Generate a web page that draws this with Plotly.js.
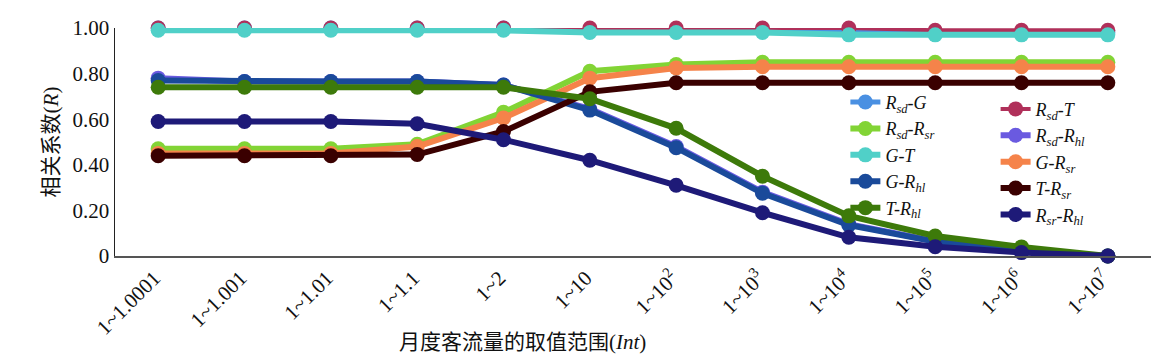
<!DOCTYPE html>
<html><head><meta charset="utf-8">
<script src="https://cdn.plot.ly/plotly-3.0.1.min.js"></script>
<style>html,body{margin:0;padding:0;background:#fff}#chart{width:1168px;height:364px}</style>
</head><body><div id="chart"></div>
<script>
const categories = ["1~1.0001","1~1.001","1~1.01","1~1.1","1~2","1~10","1~10<sup>2</sup>","1~10<sup>3</sup>","1~10<sup>4</sup>","1~10<sup>5</sup>","1~10<sup>6</sup>","1~10<sup>7</sup>"];
const yTickVals = [0,0.2,0.4,0.6,0.8,1.0];
const yTickText = ["0","0.20","0.40","0.60","0.80","1.00"];

const RsdG   = [1.00,1.00,1.00,1.00,1.00,0.99,0.99,0.99,0.98,0.98,0.98,0.98];
const RsdT   = [1.00,1.00,1.00,1.00,1.00,1.00,1.00,1.00,1.00,0.99,0.99,0.99];
const RsdRsr = [0.47,0.47,0.47,0.49,0.63,0.81,0.84,0.85,0.85,0.85,0.85,0.85];
const RsdRhl = [0.78,0.765,0.765,0.765,0.75,0.645,0.48,0.28,0.14,0.065,0.02,0];
const GT     = [0.99,0.99,0.99,0.99,0.99,0.98,0.98,0.98,0.97,0.97,0.97,0.97];
const GRsr   = [0.45,0.45,0.45,0.48,0.605,0.78,0.825,0.83,0.83,0.83,0.83,0.83];
const GRhl   = [0.77,0.765,0.765,0.765,0.75,0.64,0.475,0.275,0.136,0.063,0.02,0];
const TRsr   = [0.44,0.44,0.44,0.445,0.546,0.72,0.76,0.76,0.76,0.76,0.76,0.76];
const TRhl   = [0.74,0.74,0.74,0.74,0.74,0.69,0.56,0.35,0.176,0.088,0.04,0];
const RsrRhl = [0.59,0.59,0.59,0.58,0.51,0.42,0.31,0.19,0.082,0.041,0.015,0];

const names = {
  RsdG:"<i>R<sub>sd</sub>-G</i>", RsdT:"<i>R<sub>sd</sub>-T</i>", RsdRsr:"<i>R<sub>sd</sub>-R<sub>sr</sub></i>",
  RsdRhl:"<i>R<sub>sd</sub>-R<sub>hl</sub></i>", GT:"<i>G-T</i>", GRsr:"<i>G-R<sub>sr</sub></i>",
  GRhl:"<i>G-R<sub>hl</sub></i>", TRsr:"<i>T-R<sub>sr</sub></i>", TRhl:"<i>T-R<sub>hl</sub></i>", RsrRhl:"<i>R<sub>sr</sub>-R<sub>hl</sub></i>"
};

function tr(y, name, color, legend, rank, width){
  return {x: categories, y: y, name: name, type:'scatter', mode:'lines+markers',
    line:{color:color, width: width||6}, marker:{color:color, size:15},
    legend: legend, legendrank: rank, cliponaxis:false};
}
const data = [
  tr(RsdG, names.RsdG, '#4a90e2', 'legend', 1, 5),
  tr(RsdT, names.RsdT, '#b0305a', 'legend2', 1, 4),
  tr(RsdRsr, names.RsdRsr, '#82d435', 'legend', 2),
  tr(RsdRhl, names.RsdRhl, '#6a5ae0', 'legend2', 2),
  tr(GT, names.GT, '#50d0c8', 'legend', 3),
  tr(GRsr, names.GRsr, '#f5834a', 'legend2', 3),
  tr(GRhl, names.GRhl, '#1a4a9a', 'legend', 4),
  tr(TRsr, names.TRsr, '#3a0000', 'legend2', 4),
  tr(TRhl, names.TRhl, '#3d7a0a', 'legend', 5),
  tr(RsrRhl, names.RsrRhl, '#1e1a78', 'legend2', 5)
];
const serif = 'Liberation Serif, Times New Roman, Noto Sans CJK SC, serif';
const legFont = {family: serif, size: 18, color:'#111'};
const layout = {
  width:1168, height:364,
  margin:{l:115, r:17, t:28, b:108},
  paper_bgcolor:'#fff', plot_bgcolor:'#fff',
  showlegend:true,
  xaxis:{type:'category', range:[-0.5,11.5], showgrid:false, zeroline:false, showline:true,
    linecolor:'#555', linewidth:1.5, ticks:'', tickangle:-45, ticklabelshift:-4,
    tickfont:{family: serif, size:21, color:'#111'}},
  yaxis:{range:[0,1], showgrid:false, zeroline:false, showline:true, linecolor:'#222', linewidth:1.5,
    ticks:'', tickvals:yTickVals, ticktext:yTickText, tickfont:{family: serif, size:21, color:'#111'},
    title:{text:'相关系数(<i>R</i>)', font:{family: serif, size:21, color:'#111'}, standoff:8}},
  legend:{x:0.705, y:0.755, xanchor:'left', yanchor:'top', bgcolor:'rgba(0,0,0,0)', font:legFont,
    tracegroupgap:0, itemwidth:30, traceorder:'normal'},
  legend2:{x:0.85, y:0.725, xanchor:'left', yanchor:'top', bgcolor:'rgba(0,0,0,0)', font:legFont,
    tracegroupgap:0, itemwidth:30, traceorder:'normal'},
  annotations:[{text:'月度客流量的取值范围(<i>Int</i>)', xref:'paper', yref:'paper',
    x:(522-115)/1036, y:0, yshift:-86, xanchor:'center', yanchor:'middle', showarrow:false,
    font:{family: serif, size:21, color:'#111'}}]
};
Plotly.newPlot('chart', data, layout, {displayModeBar:false, staticPlot:true});
</script></body></html>
